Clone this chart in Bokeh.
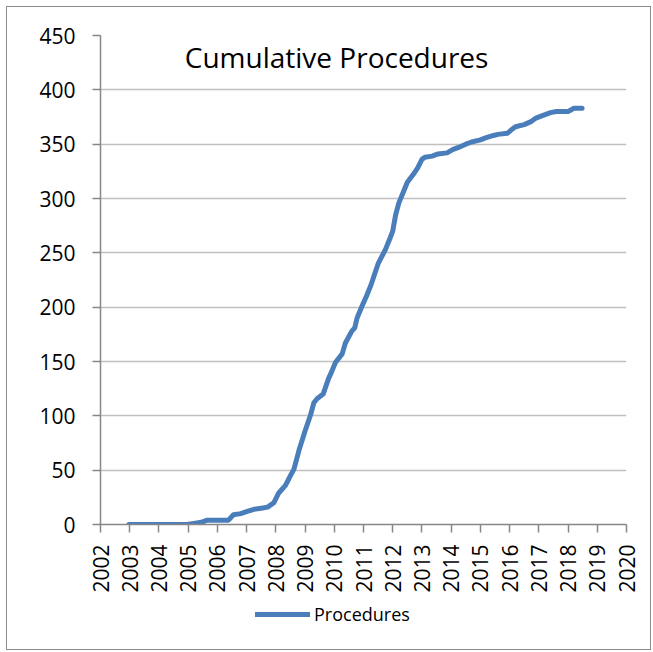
import math
from bokeh.plotting import figure
from bokeh.layouts import column
from bokeh.models import Range1d, FixedTicker, Label, Legend, LegendItem, ColumnDataSource
from bokeh.embed import file_html
from bokeh.resources import INLINE

# ---- data ----
years = [2002.97, 2004.96, 2005.2, 2005.45, 2005.65, 2006.38, 2006.55, 2006.8, 2007.02, 2007.25,
         2007.5, 2007.72, 2007.93, 2008.1, 2008.33, 2008.5, 2008.62, 2008.79, 2009.0, 2009.19,
         2009.3, 2009.42, 2009.62, 2009.8, 2009.9, 2010.04, 2010.27, 2010.38, 2010.6, 2010.7,
         2010.78, 2010.95, 2011.1, 2011.25, 2011.35, 2011.5, 2011.75, 2011.9, 2012.0, 2012.1,
         2012.21, 2012.35, 2012.5, 2012.7, 2012.85, 2013.0, 2013.1, 2013.35, 2013.55, 2013.86,
         2014.05, 2014.25, 2014.5, 2014.7, 2015.0, 2015.2, 2015.45, 2015.6, 2015.92, 2016.05,
         2016.2, 2016.5, 2016.75, 2016.9, 2017.1, 2017.4, 2017.6, 2018.0, 2018.2, 2018.48]
procedures = [0, 0, 1, 2, 4, 4, 9, 10, 12, 14,
              15, 16, 20, 29, 36, 45, 51, 68, 86, 101,
              112, 116, 120, 134, 140, 149, 157, 167, 178, 181,
              190, 201, 210, 220, 228, 240, 253, 263, 270, 285,
              296, 305, 315, 322, 328, 336, 338, 339, 341, 342,
              345, 347, 350, 352, 354, 356, 358, 359, 360, 363,
              366, 368, 371, 374, 376, 379, 380, 380, 383, 383]
x_ticks = list(range(2002, 2021))
y_ticks = list(range(0, 451, 50))
title_text = "Cumulative Procedures"
series_name = "Procedures"

FONT = "Open Sans"
LINE_COLOR = "#4a7ebb"
LINE_W = 5

p = figure(width=643, height=594, output_backend="svg", toolbar_location=None,
           x_range=Range1d(2002, 2020), y_range=Range1d(0, 450),
           min_border_left=93, min_border_right=24, min_border_top=28, min_border_bottom=77)
p.outline_line_color = None
p.background_fill_color = "white"
p.border_fill_color = "white"

src = ColumnDataSource(dict(x=years, y=procedures))
p.line("x", "y", source=src, line_color=LINE_COLOR, line_width=LINE_W,
       line_cap="round", line_join="round")

# axes
p.xaxis.ticker = FixedTicker(ticks=x_ticks)
p.yaxis.ticker = FixedTicker(ticks=y_ticks)
p.xaxis.major_label_orientation = math.pi / 2
for ax in (p.xaxis, p.yaxis):
    ax.axis_line_color = "#868686"
    ax.axis_line_width = 1.5
    ax.major_tick_line_color = "#868686"
    ax.major_tick_line_width = 1.5
    ax.major_tick_out = 8
    ax.major_tick_in = 0
    ax.minor_tick_line_color = None
    ax.major_label_text_font = FONT
    ax.major_label_text_font_size = "21px"
    ax.major_label_text_color = "black"
p.xaxis.major_label_standoff = 12
p.yaxis.major_label_standoff = 17

p.xgrid.grid_line_color = None
p.ygrid.ticker = FixedTicker(ticks=y_ticks)
p.ygrid.grid_line_color = "#c0c0c0"
p.ygrid.grid_line_width = 1.5

# in-plot title
p.add_layout(Label(x=2010.08, y=430, text=title_text, text_align="center",
                   text_baseline="alphabetic", text_font=FONT, text_font_size="28px",
                   text_color="black"))

# legend strip below the chart
q = figure(width=643, height=48, output_backend="svg", toolbar_location=None,
           x_range=Range1d(0, 1), y_range=Range1d(0, 1),
           min_border_left=0, min_border_right=0, min_border_top=0, min_border_bottom=0)
q.axis.visible = False
q.grid.visible = False
q.outline_line_color = None
q.border_fill_color = "white"
# legend sample renderer: its points lie outside the visible range, only the legend shows it
lr = q.line(x=[-10, -9], y=[-10, -9], line_color=LINE_COLOR, line_width=LINE_W, line_cap="round")
legend = Legend(items=[LegendItem(label=series_name, renderers=[lr])],
                location=(155, 23), orientation="horizontal",
                glyph_width=55, glyph_height=20, label_standoff=4, padding=0, margin=0,
                border_line_color=None, background_fill_alpha=0,
                label_text_font=FONT, label_text_font_size="18px", label_text_color="black")
q.add_layout(legend)

layout = column(p, q, spacing=0)
layout.styles = {"border": "1px solid #8c8c8c", "margin-left": "6px", "margin-top": "6px",
                 "width": "645px", "height": "644px", "box-sizing": "border-box"}

open("out.html", "w").write(file_html(layout, INLINE))
